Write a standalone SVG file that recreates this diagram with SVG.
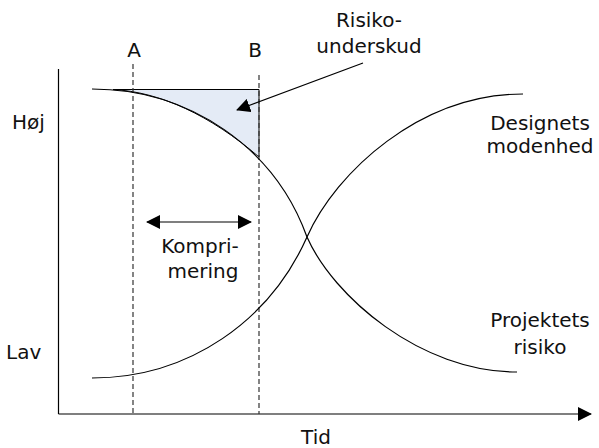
<svg xmlns="http://www.w3.org/2000/svg" width="599" height="448" viewBox="0 0 599 448">
<defs>
<style>
text{font-family:"DejaVu Sans",Verdana,sans-serif;font-size:20px;fill:#111}
.ln{stroke:#000;stroke-width:1.2;fill:none}
.dash{stroke:#333;stroke-width:1.2;stroke-dasharray:5,3;fill:none}
</style>
<marker id="ah" viewBox="0 0 14 14" refX="13" refY="7" markerWidth="14" markerHeight="14" markerUnits="userSpaceOnUse" orient="auto-start-reverse"><path d="M0,0 L14,7 L0,14 z" fill="#000"/></marker>
</defs>
<rect width="599" height="448" fill="#fff"/>
<g id="fill-region">
<path d="M113,89.5 L259,89.5 L259,157 C210,115 160,92 113,89.5 Z" fill="#e4ebf6" stroke="#000" stroke-width="1"/>
</g>
<g id="connectors">
<line class="ln" x1="58.5" y1="69" x2="58.5" y2="414"/>
<line class="ln" x1="58.5" y1="414" x2="591" y2="414" marker-end="url(#ah)"/>
<line class="dash" x1="133" y1="64" x2="133" y2="414"/>
<line class="dash" x1="259" y1="75" x2="259" y2="414"/>
<path class="ln" d="M92,89 C190,89 275,148 307,237 C333,296 420,372 517,372"/>
<path class="ln" d="M92,378 C190,378 270,320 307,237 C336,172 420,94 523,94"/>
<line class="ln" x1="363" y1="63" x2="237" y2="110" marker-end="url(#ah)"/>
<line class="ln" x1="147" y1="222" x2="251" y2="222" marker-start="url(#ah)" marker-end="url(#ah)"/>
</g>
<g id="labels">
<text x="12" y="129">Høj</text>
<text x="6" y="359">Lav</text>
<text x="134" y="57" text-anchor="middle">A</text>
<text x="255" y="57" text-anchor="middle">B</text>
<text x="369" y="27" text-anchor="middle">Risiko-</text>
<text x="369" y="53" text-anchor="middle">underskud</text>
<text x="540" y="130" text-anchor="middle">Designets</text>
<text x="540" y="153" text-anchor="middle">modenhed</text>
<text x="540" y="327" text-anchor="middle">Projektets</text>
<text x="540" y="354" text-anchor="middle">risiko</text>
<text x="200" y="253" text-anchor="middle">Kompri-</text>
<text x="203" y="278" text-anchor="middle">mering</text>
<text x="316" y="444" text-anchor="middle">Tid</text>
</g>
</svg>
